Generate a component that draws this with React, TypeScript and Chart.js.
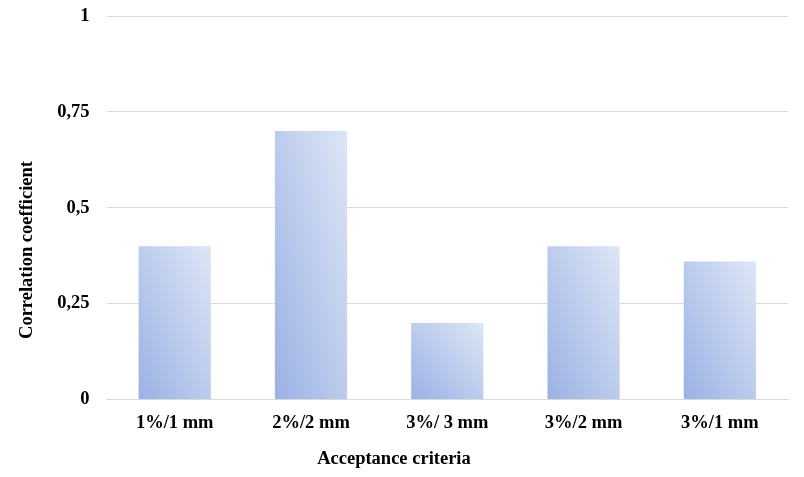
import React, { useEffect, useRef } from "react";
import { Chart, registerables } from "chart.js";

Chart.register(...registerables);

const categories = ["1%/1 mm", "2%/2 mm", "3%/ 3 mm", "3%/2 mm", "3%/1 mm"];
const values = [0.4, 0.7, 0.2, 0.4, 0.36];
const yTicks = [0, 0.25, 0.5, 0.75, 1];
const yTickLabels = ["0", "0,25", "0,5", "0,75", "1"];
const xTitle = "Acceptance criteria";
const yTitle = "Correlation coefficient";

const BAR_PCT = 0.53;
const FONT_FAMILY = "'Liberation Serif', 'Times New Roman', serif";
const FONT_SIZE = 18.5;

const titlePlugin = {
  id: "customTitles",
  afterDraw(chart: any) {
    const ctx = chart.ctx;
    ctx.save();
    ctx.fillStyle = "#000";
    ctx.font = `bold ${FONT_SIZE}px ${FONT_FAMILY}`;
    ctx.textAlign = "center";
    ctx.textBaseline = "middle";
    ctx.fillText(xTitle, chart.width * 0.49, 459);
    ctx.translate(27, 250);
    ctx.rotate(-Math.PI / 2);
    ctx.fillText(yTitle, 0, 0);
    ctx.restore();
  },
};

export default function App() {
  const ref = useRef<HTMLCanvasElement | null>(null);
  useEffect(() => {
    if (!ref.current) return;
    const font = { family: FONT_FAMILY, weight: "bold" as const, size: FONT_SIZE };
    const chart = new Chart(ref.current, {
      type: "bar",
      plugins: [titlePlugin],
      data: {
        labels: categories,
        datasets: [
          {
            data: values,
            barPercentage: BAR_PCT,
            categoryPercentage: 1,
            backgroundColor: (c: any) => {
              const ch = c.chart;
              const xs = ch.scales.x;
              const ys = ch.scales.y;
              if (!xs || !ys || c.dataIndex === undefined) return "#bccdee";
              const cx = xs.getPixelForValue(c.dataIndex);
              const w = (xs.width / categories.length) * BAR_PCT;
              const top = ys.getPixelForValue(values[c.dataIndex]);
              const bottom = ys.getPixelForValue(0);
              const h = bottom - top;
              if (![cx, w, top, bottom].every((n) => Number.isFinite(n)) || h <= 0 || w <= 0) return "#bccdee";
              // normalized diagonal gradient: t = (u + v) / 2
              const ax = 1 / (2 * w);
              const ay = -1 / (2 * h);
              const a2 = ax * ax + ay * ay;
              const dx = ax / a2;
              const dy = ay / a2;
              const x0 = cx - w / 2;
              const g = ch.ctx.createLinearGradient(x0, bottom, x0 + dx, bottom + dy);
              g.addColorStop(0, "#9ab1e3");
              g.addColorStop(1, "#dde6f6");
              return g;
            },
            borderWidth: 0,
          },
        ],
      },
      options: {
        animation: false,
        responsive: true,
        maintainAspectRatio: false,
        layout: { padding: { top: 16, right: 16, left: 14, bottom: 6 } },
        plugins: { legend: { display: false }, tooltip: { enabled: false } },
        scales: {
          x: {
            grid: { display: false, drawTicks: false },
            border: { display: true, color: "#d9d9d9" },
            ticks: { color: "#000", font, padding: 13 },
            title: { display: true, text: xTitle, color: "rgba(0,0,0,0)", font, padding: { top: 1, bottom: 0 } },
          },
          y: {
            min: 0,
            max: 1,
            afterBuildTicks: (axis: any) => {
              axis.ticks = yTicks.map((v) => ({ value: v }));
            },
            afterFit: (axis: any) => {
              axis.paddingTop = 0;
              axis.paddingBottom = 0;
            },
            grid: { color: "#d9d9d9", drawTicks: false },
            border: { display: false },
            ticks: {
              color: "#000",
              font,
              padding: 17,
              callback: (v: any) => {
                const i = yTicks.indexOf(Number(v));
                return i >= 0 ? yTickLabels[i] : "";
              },
            },
            title: { display: true, text: yTitle, color: "rgba(0,0,0,0)", font, padding: { top: 4, bottom: 0 } },
          },
        },
      },
    });
    return () => chart.destroy();
  }, []);
  return (
    <div style={{ position: "fixed", left: 0, top: 0, width: 804, height: 477, background: "#fff" }}>
      <canvas ref={ref} />
    </div>
  );
}
